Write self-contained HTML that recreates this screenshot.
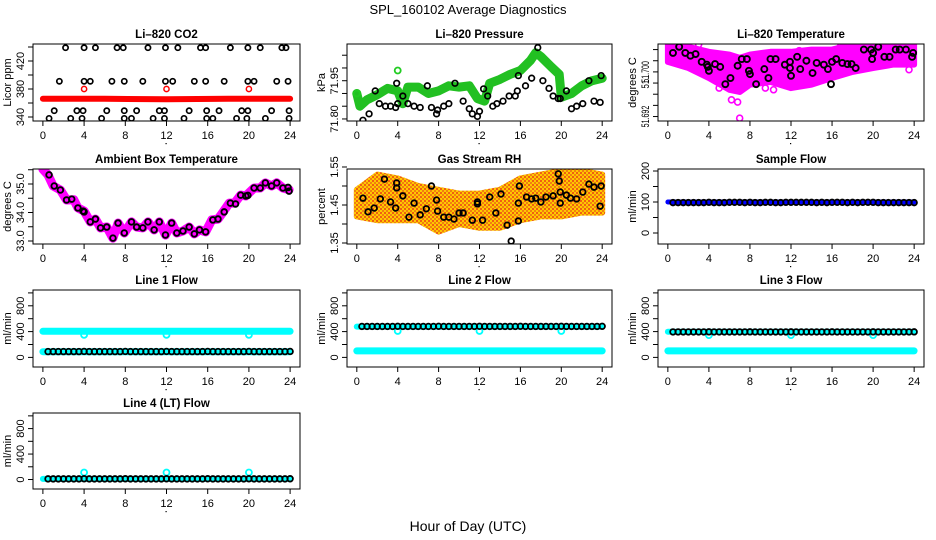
<!DOCTYPE html>
<html><head><meta charset="utf-8">
<style>
html,body{margin:0;padding:0;background:#fff;}
svg{display:block;font-family:"Liberation Sans",Arial,sans-serif;}
.tl{font-size:11px;fill:#000;}
.tt{font-size:11.5px;font-weight:bold;fill:#000;}
</style></head>
<body>
<svg id="chart" width="936" height="540" viewBox="0 0 936 540" xmlns="http://www.w3.org/2000/svg">
<defs>
<pattern id="rhpat" width="4" height="4" patternUnits="userSpaceOnUse">
<rect width="4" height="4" fill="#ffc800"/>
<rect x="0" y="0" width="2" height="2" fill="#f06010"/>
<rect x="2" y="2" width="2" height="2" fill="#f08010"/>
</pattern>
</defs>
<rect width="936" height="540" fill="#fff"/>
<text x="468" y="14" text-anchor="middle" font-size="13">SPL_160102  Average Diagnostics</text>
<text x="468" y="531" text-anchor="middle" font-size="14">Hour of Day (UTC)</text>
</svg>
<script>
// ---------- data ----------
const xTicks = [0,4,8,12,16,20,24];
// CO2
const co2BlackHours = [2.2,4.0,5.1,7.2,7.8,10.2,11.9,13.1,15.3,15.8,18.2,19.9,21.1,23.2,23.6,
 1.6,4.0,4.6,6.7,7.9,9.7,11.9,12.6,14.7,15.8,17.6,19.9,20.5,22.7,23.8,
 1.1,3.3,3.9,6.2,7.9,9.1,11.3,11.8,14.2,15.9,17.1,19.3,19.9,22.2,23.9,
 0.6,2.7,3.8,5.7,7.9,8.6,10.7,11.8,13.7,15.9,16.5,18.8,19.8,21.6,23.9];
const co2BlackVals = [439,439,439,439,439,439,439,439,439,439,439,439,439,439,439,
 391,391,391,391,391,391,391,391,391,391,391,391,391,391,391,
 349,349,349,349,349,349,349,349,349,349,349,349,349,349,349,
 338,338,338,338,338,338,338,338,338,338,338,338,338,338,338];
const co2RedBandHours = [0,6,12,18,24];
const co2RedBandVals = [366,366,365.5,366,366];
const co2RedOutHours = [4,12,20];
const co2RedOutVals = [380,380,380];
// Pressure
const presGreenHours = [0,0.3,1,2,3,4,4.5,5,6,7,8,9,10,11,11.8,12.5,13,14,15,16,17,17.5,18,19,19.8,20,21,22,23,24];
const presGreenVals = [71.90,71.85,71.875,71.895,71.92,71.91,71.86,71.925,71.925,71.90,71.91,71.93,71.925,71.93,71.88,71.87,71.94,71.955,71.975,71.99,72.03,72.06,72.045,72.005,71.975,71.885,71.90,71.93,71.95,71.96];
const presGreenOutHours = [4,0];
const presGreenOutVals = [71.99,71.90];
const presBlackHours = [0.6,1.2,1.8,2.2,2.8,3.3,3.8,3.9,4,4.5,5,5.6,6.2,6.9,7.3,7.8,7.9,8.5,9,9.6,10.4,11,11.3,11.8,12,12.4,12.8,13.3,13.7,14.3,14.9,15.5,15.7,15.8,16.5,17.1,17.7,18.2,18.8,19.2,19.7,19.9,20.5,21,21.5,22.1,22.7,23.2,23.8,23.9];
const presBlackVals = [71.795,71.82,71.91,71.86,71.85,71.85,71.845,71.94,71.86,71.89,71.86,71.85,71.845,71.93,71.845,71.82,71.835,71.85,71.86,71.94,71.87,71.84,71.82,71.81,71.83,71.918,71.89,71.85,71.86,71.87,71.89,71.89,71.91,71.97,71.93,71.96,72.08,71.95,71.92,71.89,71.88,71.88,71.91,71.84,71.85,71.86,71.95,71.87,71.865,71.97];
// Li-820 temperature
const ltBandHours = [0,2,4,6,7,8,10,12,14,16,18,20,22,24];
const ltBandUpper = [51.7049,51.7045,51.7036,51.7031,51.7025,51.7031,51.7036,51.7036,51.7040,51.7040,51.7049,51.7050,51.7050,51.7049];
const ltBandLower = [51.7018,51.7007,51.6989,51.6968,51.6964,51.6977,51.6982,51.6971,51.6977,51.6989,51.7000,51.7007,51.7013,51.7013];
const ltOutHours = [5.0,6.2,6.8,7.0,9.5,10.3,23.5,1.4,3.0,12.8,16.8];
const ltOutVals = [51.6971,51.6950,51.6946,51.6917,51.6971,51.6968,51.7004,51.7050,51.7049,51.7038,51.7045];
const ltBlackHours = [0.5,1.1,1.7,2.2,2.7,3.3,3.8,3.9,4.0,4.6,5.1,5.6,6.1,6.8,7.2,7.7,7.9,8.0,8.6,9.4,9.8,10.0,10.5,11.4,11.9,11.9,12.0,12.6,12.9,13.5,14.1,14.5,15.2,15.6,15.9,16.0,16.4,17.0,17.5,17.9,18.3,19.1,19.8,19.9,20.0,20.5,21.1,21.6,22.2,22.6,23.2,23.8,23.9];
const ltBlackVals = [51.7034,51.7045,51.7034,51.7029,51.7032,51.7018,51.7013,51.7009,51.7002,51.7014,51.7009,51.6978,51.6989,51.7011,51.7023,51.7023,51.7002,51.6996,51.6978,51.7005,51.6989,51.7023,51.7023,51.7013,51.7018,51.7007,51.6993,51.7027,51.7005,51.7020,51.6998,51.7016,51.7013,51.7005,51.6978,51.7018,51.7023,51.7016,51.7014,51.7014,51.7007,51.7040,51.7040,51.7023,51.7034,51.7045,51.7027,51.7027,51.7040,51.7040,51.7040,51.7027,51.7034];
// Ambient box temperature
const boxBandHours = [0,0.5,1,1.7,2.3,3,3.4,4,4.6,5.1,5.6,6.2,6.8,7.3,7.9,8.6,9.1,9.7,10.2,10.8,11.3,11.9,12.5,13.0,13.6,14.2,14.7,15.2,15.8,16.4,17.0,17.5,18.1,18.6,19.2,19.7,20.5,21.1,21.6,22.2,22.7,23.3,23.9];
const boxBandVals = [35.52,35.32,34.93,34.79,34.44,34.45,34.16,34.05,33.67,33.77,33.46,33.49,33.10,33.63,33.28,33.67,33.49,33.46,33.67,33.39,33.67,33.21,33.63,33.28,33.35,33.49,33.25,33.39,33.32,33.74,33.77,34.02,34.33,34.33,34.61,34.58,34.86,34.86,35.04,34.93,35.04,34.86,34.80];
const boxBlackHours = [0.6,1.1,1.7,2.3,2.8,3.4,3.9,4.0,4.6,5.1,5.6,6.2,6.8,7.3,7.9,8.6,9.1,9.7,10.2,10.8,11.3,11.9,12.5,13.0,13.6,14.2,14.7,15.2,15.8,16.5,17.0,17.6,18.2,18.7,19.2,19.7,19.9,20.5,21.1,21.6,22.2,22.7,23.3,23.8,23.9];
const boxBlackVals = [35.32,34.93,34.79,34.44,34.47,34.16,34.05,34.02,33.67,33.77,33.46,33.49,33.10,33.63,33.28,33.67,33.49,33.46,33.67,33.39,33.67,33.21,33.63,33.28,33.35,33.49,33.25,33.39,33.32,33.74,33.77,34.02,34.33,34.30,34.61,34.58,34.60,34.86,34.86,35.04,34.93,35.04,34.86,34.88,34.75];
// Gas stream RH
const rhBandHours = [0,2,4,6,8,10,12,14,16,18,20,22,24];
const rhBandUpper = [1.49,1.53,1.52,1.50,1.49,1.48,1.48,1.49,1.52,1.53,1.54,1.54,1.53];
const rhBandLower = [1.42,1.41,1.41,1.41,1.38,1.40,1.39,1.39,1.41,1.42,1.42,1.43,1.43];
const rhBlackHours = [0.6,1.1,1.7,2.3,2.7,3.3,3.8,3.9,3.9,4.5,5.1,5.6,6.2,6.8,7.3,7.8,7.9,8.5,9.0,9.5,10.0,10.4,11.3,11.8,11.8,12.3,13.0,13.6,14.1,14.7,15.1,15.8,15.8,15.9,16.6,17.1,17.5,18.0,18.5,19.2,19.7,19.8,19.9,19.9,20.5,20.9,21.5,22.1,22.7,23.2,23.8,23.9];
const rhBlackVals = [1.468,1.432,1.442,1.466,1.518,1.458,1.442,1.508,1.495,1.474,1.418,1.455,1.424,1.44,1.50,1.463,1.434,1.418,1.418,1.413,1.429,1.429,1.41,1.458,1.453,1.41,1.471,1.429,1.479,1.397,1.355,1.408,1.455,1.50,1.471,1.466,1.468,1.458,1.471,1.474,1.532,1.513,1.484,1.455,1.476,1.468,1.466,1.484,1.505,1.497,1.447,1.50];
// Flows (sample times shared)
const flowHours = [0.5,1,1.5,2,2.5,3,3.5,4,4.5,5,5.5,6,6.5,7,7.5,8,8.5,9,9.5,10,10.5,11,11.5,12,12.5,13,13.5,14,14.5,15,15.5,16,16.5,17,17.5,18,18.5,19,19.5,20,20.5,21,21.5,22,22.5,23,23.5,24];
const sampleFlowVals = [98,98,98,98,98,98,98,99,98,98,98,99,99,99,98,99,98,98,99,99,98,98,99,99,99,99,99,99,98,99,98,99,99,99,98,99,98,99,99,99,98,98,98,98,98,98,98,98];
const line1FlowVals = [90,90,90,90,90,90,90,92,90,90,90,90,90,90,90,92,90,90,90,90,90,90,90,92,90,90,90,90,90,90,90,92,90,90,90,90,90,90,90,92,90,90,90,90,90,90,90,92];
const line2FlowVals = [480,480,480,480,480,480,480,482,480,480,480,480,480,480,480,482,480,480,480,480,480,480,480,482,480,480,480,480,480,480,480,482,480,480,480,480,480,480,480,482,480,480,480,480,480,480,480,482];
const line3FlowVals = [395,395,395,395,395,395,395,396,395,395,395,395,395,395,395,396,395,395,395,395,395,395,395,396,395,395,395,395,395,395,395,396,395,395,395,395,395,395,395,396,395,395,395,395,395,395,395,396];
const line4FlowVals = [10,10,10,10,10,10,10,12,10,10,10,10,10,10,10,12,10,10,10,10,10,10,10,12,10,10,10,10,10,10,10,12,10,10,10,10,10,10,10,12,10,10,10,10,10,10,10,12];
const bandHours = [0,6,12,18,24];
const sampleBlueBand = [100,100,100,100,100];
const line1CyanHigh = [405,405,405,405,405];
const line1CyanLow = [88,88,88,88,88];
const line2CyanHigh = [478,478,478,478,478];
const line2CyanLow = [100,100,100,100,100];
const line3CyanHigh = [398,398,398,398,398];
const line3CyanLow = [100,100,100,100,100];
const line4CyanLow = [10,10,10,10,10];
const outHours = [4,12,20];
const line1CyanOut = [350,350,350];
const line2CyanOut = [410,410,410];
const line3CyanOut = [345,345,345];
const line4CyanOut = [110,110,110];

// ---------- layout ----------
const NS = "http://www.w3.org/2000/svg";
const svg = document.getElementById('chart');
const COLS = [[33,300],[347,612],[658,924]];
const ROWS = [[44,121],[169,244],[290,367],[413,489]];
let clipId = 0;
function mk(tag, attrs, parent){
  const el = document.createElementNS(NS, tag);
  for (const k in attrs) el.setAttribute(k, attrs[k]);
  parent.appendChild(el);
  return el;
}
function panel(name, c, r, ydom, yticks, ylabels, title, ylab, squeeze){
  const [l,rt] = COLS[c], [t,b] = ROWS[r];
  const g = mk('g', {}, svg);
  
  
  const x = h => l + (h + 0.96) / 25.92 * (rt - l);
  const y = v => b - (v - ydom[0]) / (ydom[1] - ydom[0]) * (b - t);
  clipId++;
  const cp = mk('clipPath', {id: 'cp' + clipId}, g);
  mk('rect', {x: l, y: t, width: rt - l, height: b - t}, cp);
  const plot = mk('g', {'clip-path': 'url(#cp' + clipId + ')'}, g);
  
  
  const tt = mk('text', {x: (l + rt) / 2, y: t - 6, 'text-anchor': 'middle', class: 'tt'}, g);
  tt.textContent = title;
  
  
  xTicks.forEach(h => {
    const tk = mk('line', {x1: x(h), x2: x(h), y1: b, y2: b + 5, stroke: '#000'}, g);
    
    
    const lb = mk('text', {x: x(h), y: b + 18, 'text-anchor': 'middle', class: 'tl'}, g);
    lb.textContent = h;
    
    
  });
  const dot = mk('rect', {x: (l + rt) / 2 - 1, y: b + 22, width: 1.2, height: 1.2, fill: '#000'}, g);
  
  
  yticks.forEach((v, i) => {
    const tk = mk('line', {x1: l - 5, x2: l, y1: y(v), y2: y(v), stroke: '#000'}, g);
    
    
    if (ylabels[i]) {
      const at = {x: 0, y: 0, 'text-anchor': 'middle', class: 'tl', transform: 'translate(' + (l - 9) + ',' + y(v) + ') rotate(-90)'};
      if (squeeze) { at.textLength = ylabels[i].length * 3.6; at.lengthAdjust = 'spacingAndGlyphs'; }
      const lb = mk('text', at, g);
      lb.textContent = ylabels[i];
      
      
    }
  });
  const yl = mk('text', {x: 0, y: 0, 'text-anchor': 'middle', class: 'tl', transform: 'translate(' + (l - 22) + ',' + ((t + b) / 2) + ') rotate(-90)'}, g);
  yl.textContent = ylab;
  
  
  return {x, y, plot, g, box: [l, t, rt, b]};
}
function finishBox(p, name){
  const [l,t,rt,b] = p.box;
  const bx = mk('rect', {x: l, y: t, width: rt - l, height: b - t, fill: 'none', stroke: '#000', 'stroke-width': 1}, p.g);
  
  
}
function points(p, hrs, vals, color, r, sw, name){
  hrs.forEach((h, i) => {
    const c = mk('circle', {cx: p.x(h), cy: p.y(vals[i]), r: r, fill: 'none', stroke: color, 'stroke-width': sw}, p.plot);
    
    
  });
}
function band(p, hrs, vals, color, w, name){
  const d = hrs.map((h, i) => (i ? 'L' : 'M') + p.x(h).toFixed(1) + ',' + p.y(vals[i]).toFixed(1)).join('');
  const pa = mk('path', {d: d, fill: 'none', stroke: color, 'stroke-width': w, 'stroke-linejoin': 'round', 'stroke-linecap': 'round'}, p.plot);
  
  
}
function area(p, hrs, up, lo, color, name){
  let d = hrs.map((h, i) => (i ? 'L' : 'M') + p.x(h).toFixed(1) + ',' + p.y(up[i]).toFixed(1)).join('');
  for (let i = hrs.length - 1; i >= 0; i--) d += 'L' + p.x(hrs[i]).toFixed(1) + ',' + p.y(lo[i]).toFixed(1);
  d += 'Z';
  const pa = mk('path', {d: d, fill: color, stroke: color, 'stroke-width': 6, 'stroke-linejoin': 'round'}, p.plot);
  
  
}

// ---------- panels ----------
let p = panel('co2', 0, 0, [334.3, 444.3], [340,360,380,400,420,440], ['340','','380','','420',''], 'Li\u2013820 CO2', 'Licor ppm');
band(p, co2RedBandHours, co2RedBandVals, '#ff0000', 6, 'co2-red-band');
points(p, co2RedOutHours, co2RedOutVals, '#ff0000', 2.6, 1.5, 'co2-red-point');
points(p, co2BlackHours, co2BlackVals, '#000', 2.6, 1.7, 'co2-black-point');
finishBox(p, 'co2');

p = panel('pressure', 1, 0, [71.792, 72.094], [71.80,71.85,71.90,71.95,72.00,72.05], ['71.80','','','71.95','',''], 'Li\u2013820 Pressure', 'kPa');
band(p, presGreenHours, presGreenVals, '#22c022', 9, 'pressure-green-band');
points(p, presGreenOutHours, presGreenOutVals, '#22cc22', 3, 1.8, 'pressure-green-point');
points(p, presBlackHours, presBlackVals, '#000', 2.8, 1.7, 'pressure-black-point');
finishBox(p, 'pressure');

p = panel('licor-temp', 2, 0, [51.6912, 51.7050], [51.692,51.694,51.696,51.698,51.700,51.702,51.704], ['51.692','','','51.','51.700','',''], 'Li\u2013820 Temperature', 'degrees C', true);
area(p, ltBandHours, ltBandUpper, ltBandLower, '#ff00ff', 'licor-temp-magenta-cloud');
points(p, ltOutHours, ltOutVals, '#ff00ff', 3, 1.6, 'licor-temp-magenta-point');
points(p, ltBlackHours, ltBlackVals, '#000', 3, 1.9, 'licor-temp-black-point');
finishBox(p, 'licor-temp');

p = panel('box-temp', 0, 1, [32.895, 35.526], [33.0,33.5,34.0,34.5,35.0,35.5], ['33.0','','34.0','','35.0',''], 'Ambient Box Temperature', 'degrees C');
band(p, boxBandHours, boxBandVals, '#ff00ff', 9, 'box-temp-magenta-band');
points(p, boxBlackHours, boxBlackVals, '#000', 2.8, 1.9, 'box-temp-black-point');
finishBox(p, 'box-temp');

p = panel('rh', 1, 1, [1.3474, 1.5447], [1.35,1.40,1.45,1.50,1.55], ['1.35','','1.45','','1.55'], 'Gas Stream RH', 'percent');
area(p, rhBandHours, rhBandUpper, rhBandLower, 'url(#rhpat)', 'rh-orange-cloud');
points(p, rhBlackHours, rhBlackVals, '#000', 2.8, 1.8, 'rh-black-point');
finishBox(p, 'rh');

p = panel('sample-flow', 2, 1, [-35.5, 206.5], [0,50,100,150,200], ['0','','100','','200'], 'Sample Flow', 'ml/min');
band(p, bandHours, sampleBlueBand, '#0000ff', 5, 'sample-flow-blue-band');
points(p, flowHours, sampleFlowVals, '#000', 2.8, 1.8, 'sample-flow-black-point');
finishBox(p, 'sample-flow');

const flowDom = [-149, 1045];
const flowTicks = [0,200,400,600,800,1000];
const flowLabels = ['0','','400','','800',''];
p = panel('line1-flow', 0, 2, flowDom, flowTicks, flowLabels, 'Line 1 Flow', 'ml/min');
band(p, bandHours, line1CyanHigh, '#00ffff', 7, 'line1-cyan-high-band');
band(p, bandHours, line1CyanLow, '#00ffff', 7, 'line1-cyan-low-band');
points(p, outHours, line1CyanOut, '#00ffff', 3, 1.8, 'line1-cyan-point');
points(p, flowHours, line1FlowVals, '#000', 2.8, 1.8, 'line1-black-point');
finishBox(p, 'line1-flow');

p = panel('line2-flow', 1, 2, flowDom, flowTicks, flowLabels, 'Line 2 Flow', 'ml/min');
band(p, bandHours, line2CyanHigh, '#00ffff', 6, 'line2-cyan-high-band');
band(p, bandHours, line2CyanLow, '#00ffff', 7, 'line2-cyan-low-band');
points(p, outHours, line2CyanOut, '#00ffff', 3, 1.8, 'line2-cyan-point');
points(p, flowHours, line2FlowVals, '#000', 2.8, 1.8, 'line2-black-point');
finishBox(p, 'line2-flow');

p = panel('line3-flow', 2, 2, flowDom, flowTicks, flowLabels, 'Line 3 Flow', 'ml/min');
band(p, bandHours, line3CyanHigh, '#00ffff', 6, 'line3-cyan-high-band');
band(p, bandHours, line3CyanLow, '#00ffff', 7, 'line3-cyan-low-band');
points(p, outHours, line3CyanOut, '#00ffff', 3, 1.8, 'line3-cyan-point');
points(p, flowHours, line3FlowVals, '#000', 2.8, 1.8, 'line3-black-point');
finishBox(p, 'line3-flow');

p = panel('line4-flow', 0, 3, flowDom, flowTicks, flowLabels, 'Line 4 (LT) Flow', 'ml/min');
band(p, bandHours, line4CyanLow, '#00ffff', 6, 'line4-cyan-band');
points(p, outHours, line4CyanOut, '#00ffff', 3, 1.8, 'line4-cyan-point');
points(p, flowHours, line4FlowVals, '#000', 2.8, 1.8, 'line4-black-point');
finishBox(p, 'line4-flow');
</script>
</body></html>
